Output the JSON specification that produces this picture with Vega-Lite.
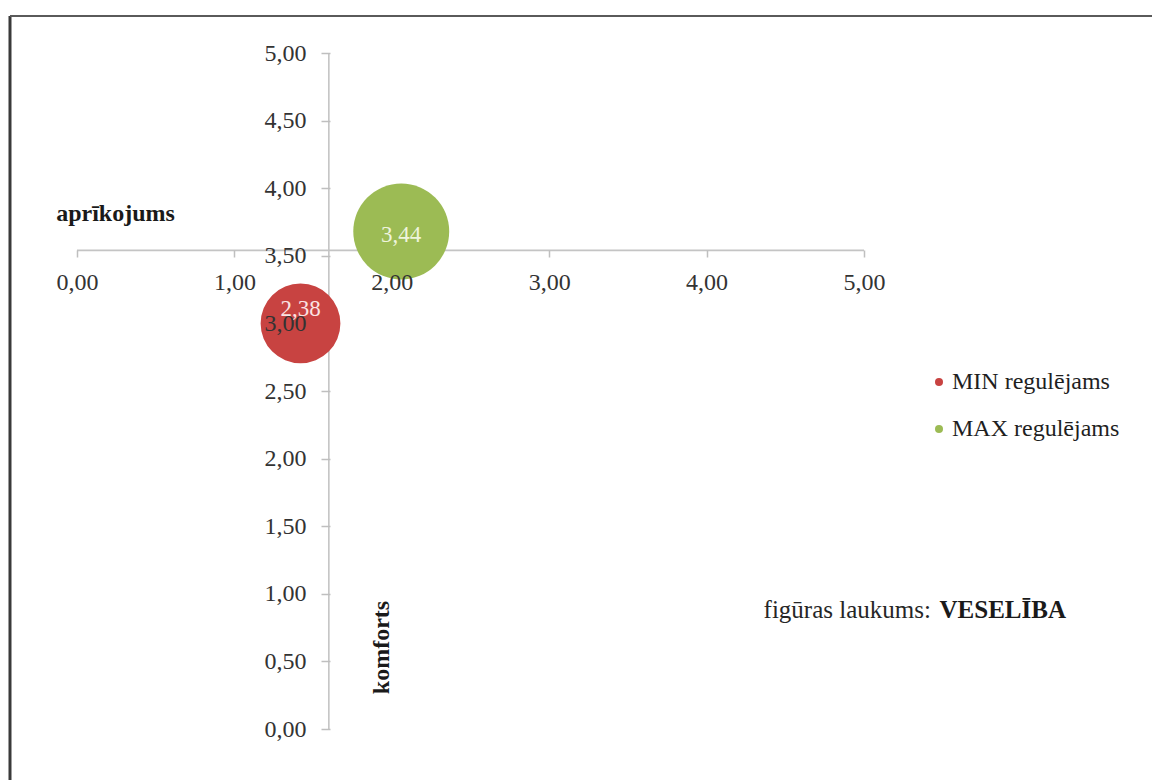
{
  "$schema": "https://vega.github.io/schema/vega-lite/v6.json",
  "width": 787,
  "height": 676,
  "autosize": {"type": "none"},
  "padding": {"left": 77, "top": 53, "right": 288, "bottom": 51},
  "background": "white",
  "config": {
    "locale": {"number": {"decimal": ",", "thousands": " ", "grouping": [3], "currency": ["", " €"]}},
    "view": {"stroke": null}
  },
  "data": {
    "values": [
      {"series": "MIN regulējams", "x": 1.42, "y": 3.0, "size": 2.38},
      {"series": "MAX regulējams", "x": 2.06, "y": 3.68, "size": 3.44}
    ]
  },
  "layer": [
    {
      "description": "chart area frame (left and top edges)",
      "data": {"values": [{}]},
      "mark": {"type": "rule", "color": "#3a3a3a", "strokeWidth": 3},
      "encoding": {
        "x": {"datum": -0.4257, "type": "quantitative", "scale": {"domain": [0, 5], "nice": false, "zero": false}},
        "y": {"datum": -0.4, "type": "quantitative", "scale": {"domain": [0, 5], "nice": false, "zero": false}},
        "y2": {"datum": 5.2737}
      }
    },
    {
      "data": {"values": [{}]},
      "mark": {"type": "rule", "color": "#5a5a5a", "strokeWidth": 2},
      "encoding": {
        "x": {"datum": -0.4257, "type": "quantitative", "scale": {"domain": [0, 5], "nice": false, "zero": false}},
        "x2": {"datum": 6.9},
        "y": {"datum": 5.2737, "type": "quantitative", "scale": {"domain": [0, 5], "nice": false, "zero": false}}
      }
    },
    {
      "description": "horizontal axis line, crossing the vertical axis",
      "data": {"values": [{}]},
      "mark": {"type": "rule", "color": "#c4c4c4", "strokeWidth": 1.6},
      "encoding": {
        "x": {"datum": 0, "type": "quantitative", "scale": {"domain": [0, 5], "nice": false, "zero": false}},
        "x2": {"datum": 5},
        "y": {"datum": 3.54, "type": "quantitative", "scale": {"domain": [0, 5], "nice": false, "zero": false}}
      }
    },
    {
      "description": "vertical axis line",
      "data": {"values": [{}]},
      "mark": {"type": "rule", "color": "#c4c4c4", "strokeWidth": 1.6},
      "encoding": {
        "x": {"datum": 1.6, "type": "quantitative", "scale": {"domain": [0, 5], "nice": false, "zero": false}},
        "y": {"datum": 0, "type": "quantitative", "scale": {"domain": [0, 5], "nice": false, "zero": false}},
        "y2": {"datum": 5}
      }
    },
    {
      "mark": {"type": "circle", "opacity": 1},
      "encoding": {
        "x": {
          "field": "x", "type": "quantitative",
          "scale": {"domain": [0, 5], "nice": false, "zero": false},
          "axis": {
            "orient": "bottom", "offset": -479, "zindex": 1,
            "values": [0, 1, 2, 3, 4, 5], "format": ".2f",
            "domain": false, "grid": false,
            "ticks": true, "tickSize": 7, "tickColor": "#bfbfbf", "tickWidth": 1.5,
            "tickOpacity": {"condition": {"test": "datum.value == 2", "value": 0}, "value": 1},
            "labelFont": "Liberation Serif", "labelFontSize": 24, "labelColor": "#333333",
            "labelPadding": 13, "labelFlush": false, "labelOverlap": false, "labelBound": false,
            "title": "aprīkojums", "titleFont": "Liberation Serif", "titleFontSize": 24,
            "titleFontWeight": "bold", "titleColor": "#1a1a1a",
            "titleX": 38, "titleY": -37, "titleAlign": "center", "titleBaseline": "middle", "titleAngle": 0
          }
        },
        "y": {
          "field": "y", "type": "quantitative",
          "scale": {"domain": [0, 5], "nice": false, "zero": false},
          "axis": {
            "orient": "left", "offset": -253, "zindex": 1,
            "values": [0, 0.5, 1, 1.5, 2, 2.5, 3, 3.5, 4, 4.5, 5], "format": ".2f",
            "domain": false, "grid": false,
            "ticks": true, "tickSize": 9, "tickColor": "#bfbfbf", "tickWidth": 1.5,
            "tickOpacity": {"condition": {"test": "datum.value == 3", "value": 0}, "value": 1},
            "labelFont": "Liberation Serif", "labelFontSize": 24, "labelColor": "#333333",
            "labelPadding": 15, "labelFlush": false, "labelOverlap": false, "labelBound": false,
            "title": "komforts", "titleFont": "Liberation Serif", "titleFontSize": 24,
            "titleFontWeight": "bold", "titleColor": "#1a1a1a",
            "titleX": 51, "titleY": 594, "titleAlign": "center", "titleBaseline": "middle", "titleAngle": -90
          }
        },
        "size": {"field": "size", "type": "quantitative", "scale": {"domain": [0, 3.44], "range": [0, 9200]}, "legend": null},
        "color": {
          "field": "series", "type": "nominal",
          "scale": {"domain": ["MIN regulējams", "MAX regulējams"], "range": ["#C84341", "#9CBB54"]},
          "legend": {
            "orient": "none", "legendX": 850, "legendY": 317, "title": null, "padding": 0,
            "symbolType": "circle", "symbolSize": 64, "symbolStrokeWidth": 0,
            "labelFont": "Liberation Serif", "labelFontSize": 24, "labelColor": "#1f1f1f",
            "labelOffset": 1, "labelLimit": 400, "rowPadding": 23
          }
        }
      }
    },
    {
      "transform": [{"filter": "datum.series === 'MAX regulējams'"}],
      "mark": {"type": "text", "font": "Liberation Serif", "fontSize": 23, "color": "#eef4dc", "align": "center", "baseline": "middle", "dy": 4},
      "encoding": {
        "x": {"field": "x", "type": "quantitative", "scale": {"domain": [0, 5], "nice": false, "zero": false}},
        "y": {"field": "y", "type": "quantitative", "scale": {"domain": [0, 5], "nice": false, "zero": false}},
        "text": {"field": "size", "type": "quantitative", "format": ".2f"}
      }
    },
    {
      "transform": [{"filter": "datum.series === 'MIN regulējams'"}],
      "mark": {"type": "text", "font": "Liberation Serif", "fontSize": 23, "color": "#fbe3e3", "align": "center", "baseline": "middle", "dy": -14},
      "encoding": {
        "x": {"field": "x", "type": "quantitative", "scale": {"domain": [0, 5], "nice": false, "zero": false}},
        "y": {"field": "y", "type": "quantitative", "scale": {"domain": [0, 5], "nice": false, "zero": false}},
        "text": {"field": "size", "type": "quantitative", "format": ".2f"}
      }
    },
    {
      "description": "note: shape area",
      "data": {"values": [{"note": "figūras laukums:", "area": "VESELĪBA"}]},
      "layer": [
        {
          "mark": {"type": "text", "font": "Liberation Serif", "fontSize": 25, "color": "#262626", "align": "right", "baseline": "alphabetic"},
          "encoding": {
            "x": {"datum": 5.425, "type": "quantitative", "scale": {"domain": [0, 5], "nice": false, "zero": false}},
            "y": {"datum": 0.821, "type": "quantitative", "scale": {"domain": [0, 5], "nice": false, "zero": false}},
            "text": {"field": "note"}
          }
        },
        {
          "mark": {"type": "text", "font": "Liberation Serif", "fontSize": 25, "fontWeight": "bold", "color": "#1a1a1a", "align": "left", "baseline": "alphabetic"},
          "encoding": {
            "x": {"datum": 5.48, "type": "quantitative", "scale": {"domain": [0, 5], "nice": false, "zero": false}},
            "y": {"datum": 0.821, "type": "quantitative", "scale": {"domain": [0, 5], "nice": false, "zero": false}},
            "text": {"field": "area"}
          }
        }
      ]
    }
  ]
}
